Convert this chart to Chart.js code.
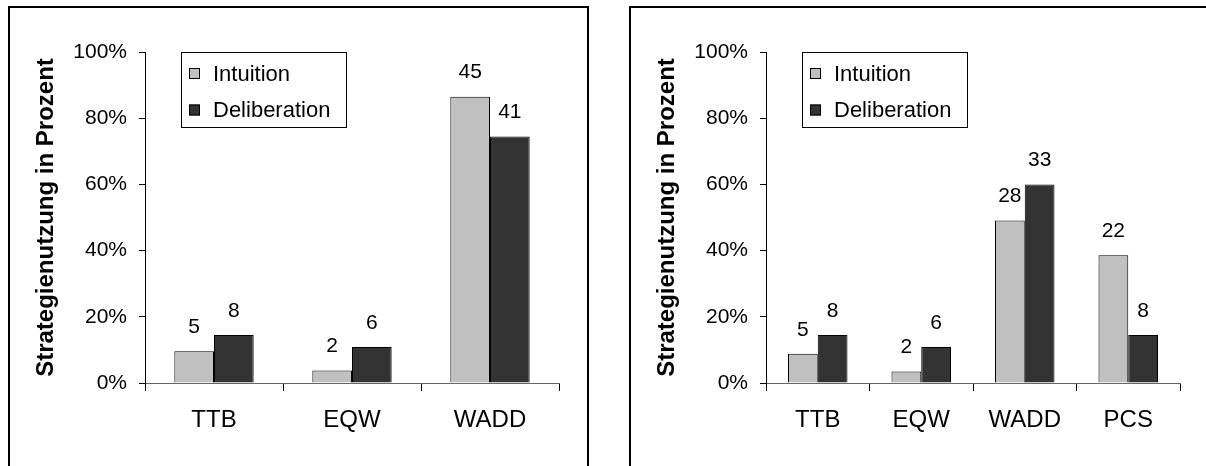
<!DOCTYPE html>
<html>
<head>
<meta charset="utf-8">
<script src="https://cdn.jsdelivr.net/npm/chart.js@4"></script>
<style>
  html, body { margin: 0; padding: 0; background: #fff; overflow: hidden; }
  body { width: 1206px; height: 466px; position: relative; }
  .panel {
    position: absolute; top: 6px; height: 480px;
    border: 2px solid #000; border-bottom: none;
  }
  #panelLeft { left: 8px; width: 577px; }
  #panelRight { left: 629px; width: 600px; }
  canvas { display: block; }
</style>
</head>
<body>
<div class="panel" id="panelLeft"><canvas id="chartLeft" width="577" height="458"></canvas></div>
<div class="panel" id="panelRight"><canvas id="chartRight" width="577" height="458"></canvas></div>
<script>
// Strategy use, share of participants (%) and counts per group
const categoriesLeft = ['TTB', 'EQW', 'WADD'];
const intuitionLeft = [9.6, 3.8, 86.5];
const deliberationLeft = [14.5, 10.9, 74.5];
const intuitionCountLeft = [5, 2, 45];
const deliberationCountLeft = [8, 6, 41];

const categoriesRight = ['TTB', 'EQW', 'WADD', 'PCS'];
const intuitionRight = [8.8, 3.5, 49.1, 38.6];
const deliberationRight = [14.5, 10.9, 60.0, 14.5];
const intuitionCountRight = [5, 2, 28, 22];
const deliberationCountRight = [8, 6, 33, 8];

const yTicks = [0, 20, 40, 60, 80, 100];

Chart.defaults.font.family = "'Liberation Sans', Arial, sans-serif";
Chart.defaults.color = '#000';

// legend box drawn inside the plot, top left
const boxLegend = {
    id: 'boxLegend',
    afterDraw(chart) {
        const ctx = chart.ctx;
        const area = chart.chartArea;
        const x = area.left + 36, y = area.top;
        const w = 165, h = 75;
        const rows = [21.5, 58];
        ctx.save();
        ctx.fillStyle = '#fff';
        ctx.fillRect(x, y, w, h);
        ctx.strokeStyle = '#000';
        ctx.lineWidth = 1;
        ctx.strokeRect(x + 0.5, y + 0.5, w, h);
        ctx.font = "22px 'Liberation Sans', Arial, sans-serif";
        ctx.textBaseline = 'middle';
        chart.data.datasets.forEach(function(ds, i) {
            const cy = y + rows[i];
            ctx.fillStyle = ds.backgroundColor;
            ctx.fillRect(x + 8, cy - 5.5, 11, 11);
            ctx.strokeRect(x + 8.5, cy - 5, 10, 10);
            ctx.fillStyle = '#000';
            ctx.fillText(ds.label, x + 32, cy + 1);
        });
        ctx.restore();
    }
};

// counts written above each bar
const countLabels = {
    id: 'countLabels',
    afterDatasetsDraw(chart) {
        const ctx = chart.ctx;
        ctx.save();
        ctx.font = "21px 'Liberation Sans', Arial, sans-serif";
        ctx.fillStyle = '#000';
        ctx.textAlign = 'center';
        ctx.textBaseline = 'middle';
        chart.data.datasets.forEach(function(ds, i) {
            chart.getDatasetMeta(i).data.forEach(function(bar, j) {
                ctx.fillText(String(ds.counts[j]), bar.x, bar.y - 24);
            });
        });
        ctx.restore();
    }
};

function makeChart(canvasId, categories, intuition, deliberation, intuitionN, deliberationN) {
    const ctx = document.getElementById(canvasId).getContext('2d');
    return new Chart(ctx, {
        type: 'bar',
        data: {
            labels: categories,
            datasets: [{
                label: 'Intuition',
                data: intuition,
                counts: intuitionN,
                backgroundColor: '#c0c0c0',
                borderColor: '#000',
                borderWidth: 1
            }, {
                label: 'Deliberation',
                data: deliberation,
                counts: deliberationN,
                backgroundColor: '#333333',
                borderColor: '#000',
                borderWidth: 1
            }]
        },
        options: {
            responsive: false,
            animation: false,
            categoryPercentage: 0.575,
            barPercentage: 1.0,
            layout: { padding: { left: 22, top: 44, right: 28, bottom: 10 } },
            plugins: {
                legend: { display: false },
                tooltip: { enabled: false }
            },
            scales: {
                x: {
                    grid: {
                        display: true,
                        drawOnChartArea: false,
                        drawTicks: true,
                        tickLength: 8,
                        color: '#000'
                    },
                    border: { display: true, color: '#666', width: 1 },
                    ticks: {
                        font: { size: 24 },
                        padding: 15,
                        maxRotation: 0
                    },
                    afterFit: function(scale) { scale.height = 73; }
                },
                y: {
                    min: 0,
                    max: 100,
                    afterBuildTicks: function(scale) {
                        scale.ticks = yTicks.map(function(v) { return { value: v }; });
                    },
                    grid: {
                        display: true,
                        drawOnChartArea: false,
                        drawTicks: true,
                        tickLength: 6,
                        color: '#000'
                    },
                    border: { display: true, color: '#000', width: 1 },
                    ticks: {
                        font: { size: 21 },
                        padding: 12,
                        callback: function(v) { return v + '%'; }
                    },
                    title: {
                        display: true,
                        text: 'Strategienutzung in Prozent',
                        font: { size: 24, weight: 'bold' },
                        padding: 0
                    },
                    afterFit: function(scale) { scale.width = 113; }
                }
            }
        },
        plugins: [countLabels, boxLegend]
    });
}

makeChart('chartLeft', categoriesLeft, intuitionLeft, deliberationLeft, intuitionCountLeft, deliberationCountLeft);
makeChart('chartRight', categoriesRight, intuitionRight, deliberationRight, intuitionCountRight, deliberationCountRight);
</script>
</body>
</html>
